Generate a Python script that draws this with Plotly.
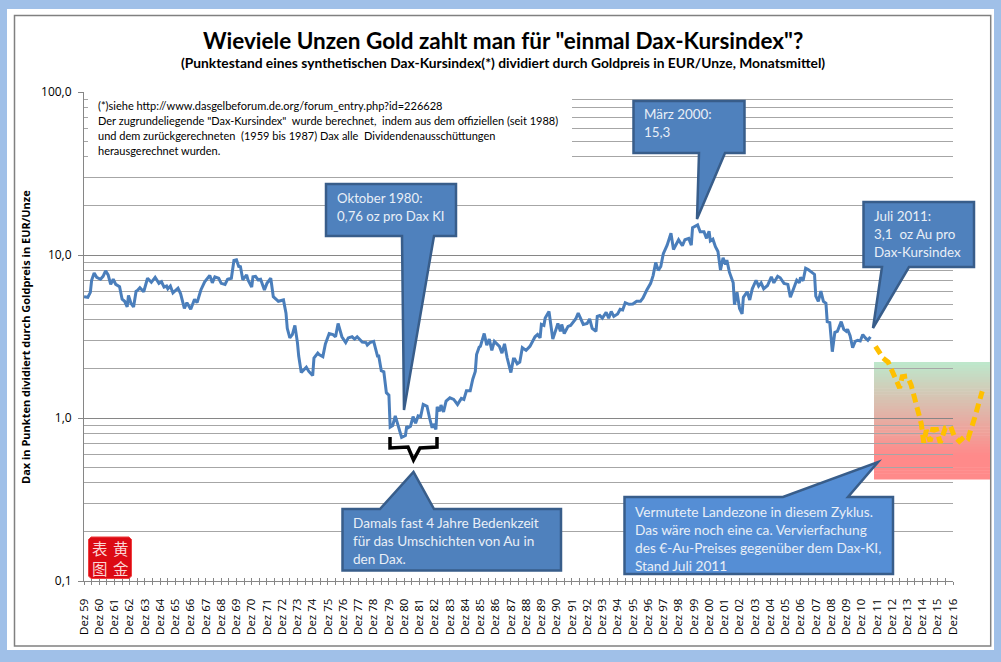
"""Wieviele Unzen Gold zahlt man fuer einmal Dax-Kursindex"""
from plotly.graph_objects import Scatter, Figure

# Monate seit Dez 1959 und oz Gold pro Dax-Kursindex
monate = [
    0, 3, 5, 6, 8, 10, 13, 15, 17, 19, 21, 23, 25, 28, 30, 32, 34, 35, 37, 39,
    41, 42, 44, 47, 50, 53, 56, 59, 61, 63, 65, 66, 68, 70, 74, 76, 79, 81, 84, 87,
    89, 92, 95, 99, 101, 103, 106, 108, 111, 113, 116, 118, 120, 122, 123, 125, 128, 129, 132, 133,
    135, 137, 139, 142, 144, 147, 149, 153, 157, 159, 160, 162, 164, 166, 168, 169, 171, 173, 175, 177,
    180, 181, 184, 185, 188, 190, 193, 196, 198, 200, 203, 206, 208, 211, 213, 215, 219, 222, 223, 225,
    228, 231, 232, 234, 236, 238, 240, 241, 243, 245, 247, 249, 250, 253, 254, 255, 257, 259, 261, 263,
    265, 267, 270, 272, 274, 275, 277, 278, 280, 281, 283, 285, 288, 291, 294, 297, 299, 301, 304, 306,
    308, 309, 311, 312, 315, 317, 319, 321, 323, 327, 329, 331, 333, 336, 338, 339, 341, 343, 345, 348,
    351, 355, 357, 359, 360, 362, 363, 366, 369, 371, 373, 375, 376, 378, 381, 383, 387, 389, 391, 393,
    396, 398, 400, 403, 404, 406, 408, 411, 413, 415, 417, 420, 422, 424, 426, 429, 432, 435, 438, 440,
    443, 446, 448, 450, 452, 454, 456, 459, 462, 464, 468, 471, 473, 476, 478, 479, 483, 485, 488, 490,
    492, 493, 495, 497, 499, 501, 503, 505, 506, 508, 511, 512, 514, 516, 518, 519, 522, 524, 526, 529,
    531, 533, 535, 538, 541, 543, 546, 548, 551, 554, 556, 558, 561, 563, 564, 566, 568, 570, 575, 576,
    578, 580, 582, 584, 585, 587, 589, 591, 593, 596, 598, 600, 601, 603, 605, 607, 609, 611, 613, 615,
    617, 619,
]
oz_pro_dax = [
    5.55, 5.5, 5.9, 7.0, 7.75, 7.3, 7.1, 7.4, 8.0, 7.55, 6.6, 7.1, 6.6, 6.4, 5.35, 5.2, 4.8, 5.65, 5.05, 4.8,
    6.0, 6.05, 6.3, 5.95, 7.2, 6.8, 7.3, 6.7, 6.85, 6.35, 6.45, 6.2, 6.45, 5.85, 6.25, 5.8, 4.7, 5.1, 4.65, 5.35,
    5.1, 6.1, 6.85, 7.5, 6.75, 7.35, 7.2, 6.7, 6.6, 7.1, 7.2, 9.25, 9.35, 8.4, 8.6, 7.05, 7.55, 7.05, 6.35, 7.35,
    7.4, 7.05, 7.1, 6.1, 6.7, 7.2, 5.55, 5.2, 5.3, 4.4, 3.55, 3.1, 3.25, 3.7, 2.9, 2.4, 1.9, 1.97, 2.05, 1.93,
    1.82, 2.33, 2.5, 2.45, 2.38, 2.85, 3.3, 3.25, 3.15, 3.8, 3.15, 2.9, 3.1, 3.15, 3.05, 3.15, 2.92, 2.9, 2.8, 2.9,
    2.95, 2.4, 2.4, 1.95, 1.92, 1.43, 1.38, 0.88, 0.9, 1.03, 0.91, 0.83, 0.76, 0.78, 0.89, 0.87, 0.89, 1.02, 0.93, 1.03,
    1.02, 1.21, 1.18, 1.0, 0.87, 0.92, 0.85, 1.17, 1.1, 1.2, 1.09, 1.27, 1.33, 1.3, 1.21, 1.32, 1.3, 1.47, 1.47, 1.73,
    1.93, 2.45, 2.72, 2.75, 3.3, 2.8, 3.05, 2.6, 2.95, 2.75, 2.5, 2.85, 2.35, 1.9, 2.3, 2.3, 2.15, 2.2, 2.7, 2.6,
    2.75, 3.15, 3.25, 3.1, 3.75, 3.7, 4.1, 4.5, 3.05, 3.4, 3.8, 3.4, 3.75, 3.3, 3.65, 3.7, 4.05, 4.4, 4.1, 3.75,
    3.8, 4.05, 3.55, 3.4, 4.2, 4.25, 4.1, 4.45, 4.1, 4.5, 4.2, 4.35, 4.65, 4.6, 5.1, 4.98, 5.0, 5.2, 5.2, 5.45,
    6.1, 6.7, 7.5, 9.0, 8.05, 8.5, 10.2, 11.5, 13.6, 10.8, 12.4, 11.4, 12.4, 12.65, 11.5, 14.7, 15.3, 13.9, 13.9, 12.65,
    14.0, 12.2, 12.5, 11.25, 10.5, 8.1, 9.6, 8.75, 9.3, 7.85, 6.75, 4.95, 5.9, 4.7, 4.35, 5.5, 5.95, 5.3, 6.2, 7.0,
    6.45, 6.75, 6.2, 6.5, 7.35, 6.75, 7.4, 7.25, 6.7, 6.6, 5.5, 6.0, 7.0, 6.75, 7.3, 6.95, 8.3, 8.15, 7.6, 5.6,
    5.2, 6.0, 5.2, 5.05, 3.9, 3.85, 2.55, 3.35, 3.4, 3.9, 3.5, 3.4, 3.5, 3.2, 2.7, 2.95, 3.0, 2.97, 3.25, 3.1,
    3.0, 3.15,
]

# gestrichelte Prognose (geht im Original ueber die Achse hinaus)
prognose_monate = [623, 629, 633, 637, 640, 642, 644, 648, 651, 657, 659, 661, 663, 666, 668, 671, 674, 678, 682,
                   685, 689, 694, 696, 701, 705, 707]
prognose_oz = [2.75, 2.33, 2.2, 1.87, 1.64, 1.53, 1.79, 1.81, 1.6, 1.1, 0.925, 0.705, 0.842, 0.72, 0.85, 0.85,
               0.705, 0.87, 0.89, 0.774, 0.72, 0.78, 0.755, 1.0, 1.3, 1.46]

# ein Strich alle 6 Monate, beschriftet wird nur jeder zweite
achse_monate = [6 * i for i in range(115)]
achse_text = [f"Dez {(59 + i // 2) % 100:02d}" if i % 2 == 0 else "" for i in range(115)]

L, R, R2, T, B = 84, 953, 990, 92, 581
BLAU = "#4F81BD"
RAND = "#385D8A"
HELL = "#E9EFF7"


def px(x):
    return (x - L) / (R2 - L)


def py(y):
    return (B - y) / (B - T)


def pfad(punkte, zu=True):
    """baut einen svg pfad aus pixel koordinaten"""
    return "M" + " L".join(f"{px(x):.5f},{py(y):.5f}" for x, y in punkte) + (" Z" if zu else "")


def rechteck(x0, y0, x1, y1, farbe, layer="below", linie=None, breite=0):
    return dict(type="rect", xref="paper", yref="paper", x0=px(x0), x1=px(x1), y0=py(y0), y1=py(y1),
                fillcolor=farbe, layer=layer, line=dict(color=linie, width=breite))


def callout(punkte, farbe=BLAU, linie=RAND, breite=2.5):
    return dict(type="path", xref="paper", yref="paper", path=pfad(punkte), fillcolor=farbe,
                layer="above", line=dict(color=linie, width=breite))


def text(x, y, s, size, color="black", font="Lato", xanchor="left", yanchor="middle", angle=0, align="left"):
    return dict(x=px(x), y=py(y), xref="paper", yref="paper", text=s, showarrow=False, xanchor=xanchor,
                yanchor=yanchor, align=align, textangle=angle, borderpad=0, borderwidth=0,
                font=dict(family=font, size=size, color=color))


def zeilen(x, y, teile, size, color="black", abstand=18):
    """mehrere zeilen mit festem zeilenabstand"""
    return [text(x, y + i * abstand, s, size, color) for i, s in enumerate(teile)]


shapes = [
    rechteck(7, 9, 994, 650, "white"),
    rechteck(14.5, 15.5, 990.7, 646, "rgba(0,0,0,0)", linie="#808080", breite=1.5),
]

# Landezone, Verlauf gruen nach rot
n = 40
for i in range(n):
    t = min(1, (i + 0.5) / n * 117 / 93)
    farbe = f"rgb({189 + 66 * t:.0f},{232 - 94 * t:.0f},{204 - 66 * t:.0f})"
    shapes.append(rechteck(874, 362 + 117 * i / n, 990, 362 + 117 * (i + 1) / n + 0.5, farbe))

# Kasten fuer die Fussnote, deckt das Gitter ab
shapes.append(rechteck(88, 93, 572, 166, "white", layer="above"))

shapes += [
    callout([(326, 184), (456, 184), (456, 236), (434, 236), (404, 410), (402, 236), (326, 236)]),
    callout([(633.5, 101), (744.5, 101), (744.5, 153), (725, 153), (697, 219), (699, 153), (633.5, 153)]),
    callout([(863.5, 202), (974, 202), (974, 267), (909, 267), (873, 328), (882, 267), (863.5, 267)]),
    callout([(342.5, 509), (380, 509), (413.5, 472), (434, 509), (561, 509), (561, 570.5), (342.5, 570.5)]),
    callout([(624.5, 497), (783, 497), (878, 462), (848, 497), (893, 497), (893, 574), (624.5, 574)], "#558ED5"),
    # Klammer
    dict(type="path", xref="paper", yref="paper", layer="above", line=dict(color="black", width=3.5),
         path=pfad([(390, 437), (390, 448), (408, 447), (413.5, 460), (420, 448), (437, 447), (437, 437)], False)),
    # Stempel
    callout([(91, 537), (129, 537), (131.5, 539.5), (131.5, 576), (129, 578.5), (91, 578.5), (88.5, 576), (88.5, 539.5)],
            "#DC0A14", "#F04040", 1),
]

annotations = [
    text(503, 40, '<b>Wieviele Unzen Gold zahlt man für "einmal Dax-Kursindex"?</b>', 22.5, xanchor="center"),
    text(503, 63, "<b>(Punktestand eines synthetischen Dax-Kursindex(*) dividiert durch Goldpreis in EUR/Unze, Monatsmittel)</b>",
         13.8, xanchor="center"),
    text(25, 337, "<b>Dax in Punkten dividiert durch Goldpreis in EUR/Unze</b>", 11, xanchor="center",
         angle=-90, font="Open Sans"),
    text(99.5, 558, "表<br>图", 15.5, "#FBD5D5", "Noto Sans CJK SC", "center"),
    text(120.5, 558, "黄<br>金", 15.5, "#FBD5D5", "Noto Sans CJK SC", "center"),
]
annotations += zeilen(98, 106, [
    "(*)siehe http://www.dasgelbeforum.de.org/forum_entry.php?id=226628",
    'Der zugrundeliegende "Dax-Kursindex"  wurde berechnet,  indem aus dem offiziellen (seit 1988)',
    "und dem zurückgerechneten  (1959 bis 1987) Dax alle  Dividendenausschüttungen",
    "herausgerechnet wurden.",
], 11, abstand=14.8)
annotations += zeilen(336.5, 198, ["Oktober 1980:", "0,76 oz pro Dax KI"], 13.2, HELL)
annotations += zeilen(644, 114, ["März 2000:", "15,3"], 13.4, HELL)
annotations += zeilen(873.5, 216, ["Juli 2011:", "3,1  oz Au pro", "Dax-Kursindex"], 13.4, HELL)
annotations += zeilen(353, 523, ["Damals fast 4 Jahre Bedenkzeit", "für das Umschichten von Au in", "den Dax."], 13.6, HELL)
annotations += zeilen(635, 511, ["Vermutete Landezone in diesem Zyklus.", "Das wäre noch eine ca. Vervierfachung",
                                 "des €-Au-Preises gegenüber dem Dax-KI,", "Stand Juli 2011"], 13.7, HELL)

fig = Figure()
fig.add_trace(Scatter(x=monate, y=oz_pro_dax, mode="lines", line=dict(color="#4A7EBB", width=3),
                      showlegend=False, hoverinfo="skip"))
fig.add_trace(Scatter(x=prognose_monate, y=prognose_oz, mode="lines", xaxis="x2", yaxis="y2", showlegend=False,
                      line=dict(color="#FFC000", width=5, dash="9px,5px"), hoverinfo="skip"))
# nur damit die zweite Strichachse gezeichnet wird
fig.add_trace(Scatter(x=monate[:1], y=oz_pro_dax[:1], mode="lines", xaxis="x3", showlegend=False, hoverinfo="skip"))

x_domain = [0, (R - L) / (R2 - L)]
fig.update_layout(
    width=1001, height=662, autosize=False,
    margin=dict(l=L, r=1001 - R2, t=T, b=662 - B, pad=0, autoexpand=False),
    paper_bgcolor="#A0C0E8", plot_bgcolor="rgba(0,0,0,0)",
    separators=", ", font=dict(family="Open Sans", color="black"),
    shapes=shapes, annotations=annotations, showlegend=False,
    xaxis=dict(domain=x_domain, range=[0, 684], tickmode="array", tickvals=achse_monate,
               ticktext=achse_text, tickangle=-90, tickfont=dict(size=11.5), ticks="outside", ticklen=3,
               tickcolor="#868686", showgrid=False, showline=True, linecolor="#868686", linewidth=1,
               zeroline=False, ticklabelstandoff=9),
    xaxis3=dict(domain=x_domain, range=[0, 684], overlaying="x", anchor="y", tickmode="array", tickvals=achse_monate,
                ticks="inside", ticklen=3, tickcolor="#868686", showticklabels=False, showgrid=False, showline=False,
                zeroline=False),
    yaxis=dict(type="log", range=[-1, 2], dtick=1, tickformat=".1f", tickfont=dict(size=12), ticks="outside",
               ticklen=5, tickcolor="#868686", showgrid=True, gridcolor="#868686", gridwidth=1, showline=True,
               linecolor="#868686", linewidth=1, zeroline=False, ticklabelstandoff=4,
               minor=dict(dtick="D1", showgrid=True, gridcolor="#A6A6A6", gridwidth=1, ticks="")),
    xaxis2=dict(domain=[0, 1], range=[0, (R2 - L) / ((R - L) / 684)], anchor="y2", visible=False),
    yaxis2=dict(type="log", domain=[0, 1], range=[-1, 2], anchor="x2", visible=False),
)

fig.write_html("out.html", config={"displayModeBar": False},
               post_script="document.body.style.margin='0';document.body.style.overflow='hidden';")
